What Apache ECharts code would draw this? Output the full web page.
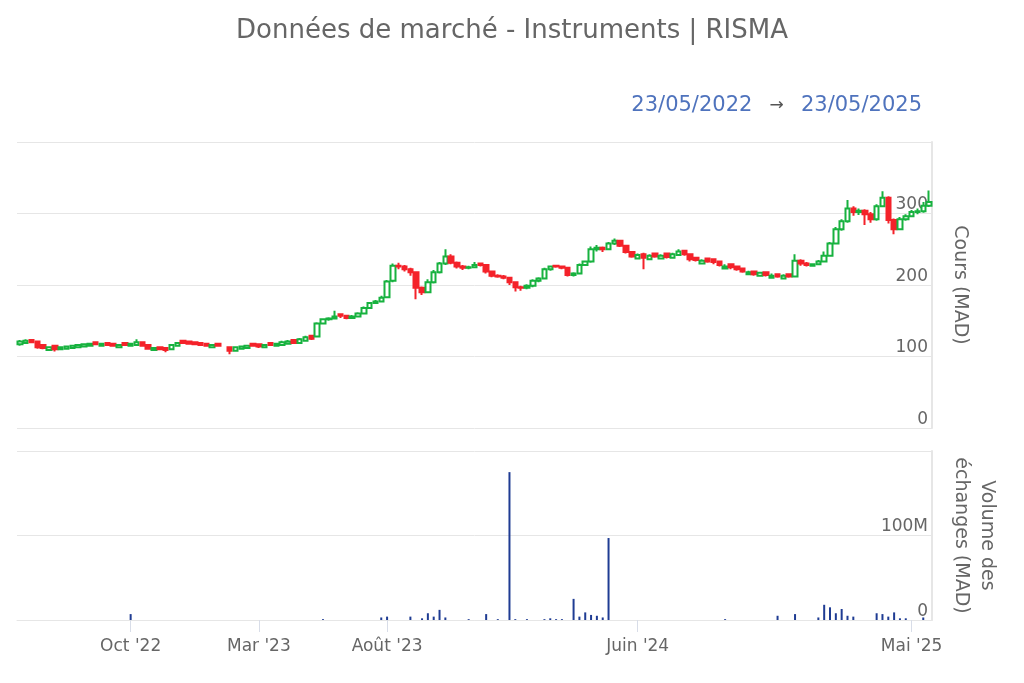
<!DOCTYPE html>
<html>
<head>
<meta charset="utf-8">
<script src="https://cdn.jsdelivr.net/npm/echarts@6/dist/echarts.min.js"></script>
<style>
html,body{margin:0;padding:0;background:#fff;}
#chart{width:1024px;height:683px;}
</style>
</head>
<body>
<div id="chart"></div>
<script>
// ---- Data (weekly) ----
const startWeek = '2022-05-16';
const weekCount = 157;

const opens = [117,119,123,121,116,109,115,110,111,112,
113,114,115,120,115,119,118,113,119,115,
116,120,116,109,113,112,110,115,122,121,
120,119,118,113,118,null,113,108,111,112,
118,117,113,119,115,116,118,123,119,122,
129,128,146,152,153,159,157,154,156,160,
168,175,177,183,206,227,226,222,218,196,
190,204,218,230,240,231,226,224,225,230,
228,219,213,212,210,204,197,196,199,206,
209,222,227,226,224,214,216,228,233,250,
252,250,258,262,255,246,237,243,236,244,
237,244,238,242,248,243,238,230,237,236,
233,223,229,226,223,215,219,213,218,210,
215,209,215,212,234,230,227,229,233,241,
258,278,289,307,302,304,299,292,310,322,
291,278,292,296,302,303,311];

const closes = [121,122,120,113,112,113,110,113,114,115,
116,117,118,117,118,116,115,116,116,118,
120,115,111,112,110,109,116,119,119,118,
117,116,115,116,115,null,108,113,114,115,
115,114,116,116,118,120,121,119,124,127,
125,146,152,153,156,157,154,156,160,168,
175,177,182,205,227,226,222,218,196,190,
204,218,230,240,231,226,224,225,228,228,
219,213,212,210,204,197,196,199,206,209,
222,226,226,224,214,216,228,233,250,252,
250,258,262,255,246,240,242,238,241,240,
241,239,243,247,243,236,235,234,233,232,
228,226,225,222,219,218,215,217,214,213,
212,213,212,234,230,228,229,233,241,258,
278,289,307,302,304,299,292,310,322,291,
278,292,296,302,303,311,316];

const lows = [115,118,119,111,110,108,107,109,110,111,
112,113,114,116,114,115,114,112,115,114,
115,114,110,108,109,106,109,114,118,117,
116,115,114,112,114,null,103,107,110,111,
114,112,112,115,114,115,117,118,118,121,
123,127,145,150,152,154,152,153,155,159,
167,174,176,182,204,222,219,213,180,186,
189,202,216,228,229,223,221,222,224,226,
216,211,210,208,200,191,192,194,197,204,
208,220,224,222,212,212,215,227,231,247,
246,249,256,253,244,238,236,222,235,238,
236,237,237,241,241,233,233,229,231,229,
226,222,222,220,217,214,213,212,212,209,
210,208,210,211,227,226,226,228,232,240,
257,276,287,297,298,284,287,290,309,286,
271,277,290,295,299,301,309];

const highs = [123,124,124,122,117,114,116,114,115,116,
117,118,119,121,119,120,119,117,120,119,
124,121,117,113,114,113,117,120,123,122,
121,120,119,117,119,null,114,114,115,116,
119,118,117,120,119,122,123,124,126,129,
130,148,153,155,164,160,158,158,162,170,
176,179,185,207,230,231,228,224,219,198,
208,221,232,250,243,233,228,227,232,231,
229,220,215,214,211,205,199,201,208,211,
224,227,228,227,225,218,230,234,254,256,
254,260,265,263,256,247,244,245,243,245,
243,245,245,250,249,244,239,236,238,237,
234,229,230,227,224,220,220,218,219,216,
216,215,216,243,236,232,230,235,247,260,
281,292,319,310,307,306,302,313,331,324,
293,295,299,305,307,316,332];

// trading volume, millions of MAD (null = none)
const volumes = [null,null,null,null,null,null,null,null,null,null,
null,null,null,null,null,null,null,null,null,7,
null,null,null,null,null,null,null,null,null,null,
null,null,null,null,null,null,null,null,null,null,
null,null,null,null,null,null,null,null,null,null,
null,null,1,null,null,null,null,null,null,null,
null,null,3,4,null,null,null,4,null,2,
8,4,12,3,null,null,null,1,null,null,
7,null,1,null,175,1,null,1,null,null,
1,2,1,1,null,25,4,9,6,5,
3,97,null,null,null,null,null,null,null,null,
null,null,null,null,null,null,null,null,null,null,
null,1,null,null,null,null,null,null,null,null,
5,null,null,7,null,null,null,3,18,15,
8,13,5,4,null,null,null,8,7,4,
9,2,2,null,null,3,null];

// x-axis ticks (week category -> label)
const tickWeeks  = ['2022-09-26','2023-02-27','2023-07-31','2024-05-27','2025-04-21'];
const tickLabels = ["Oct '22","Mar '23","Août '23","Juin '24","Mai '25"];

const priceTicks  = [0,100,200,300,400];
const volumeTicks = [0,100,200];

const titleText = 'Données de marché - Instruments | RISMA';
const rangeFrom = '23/05/2022';
const rangeTo   = '23/05/2025';

// ---- Build ----
const weeks = [];
const t0 = Date.parse(startWeek + 'T00:00:00Z');
for (let i = 0; i < weekCount; i++) {
  weeks.push(new Date(t0 + i * 7 * 86400000).toISOString().slice(0, 10));
}
const candleData = weeks.map((w, i) =>
  closes[i] == null ? '-' : [opens[i], closes[i], lows[i], highs[i]]);
const volumeData = volumes.map(v => v == null ? '-' : v);

const tickMap = {};
tickWeeks.forEach((w, i) => { tickMap[w] = tickLabels[i]; });
const isTick = (idx, val) => Object.prototype.hasOwnProperty.call(tickMap, val);

const FONT = 'DejaVu Sans';
const GREEN = '#17b23f';
const RED = '#f4222a';

const chart = echarts.init(document.getElementById('chart'), null, {renderer: 'canvas'});
chart.setOption({
  animation: false,
  backgroundColor: '#ffffff',
  textStyle: {fontFamily: FONT},
  title: [{
    text: titleText,
    left: 'center',
    top: 13,
    textStyle: {fontFamily: FONT, fontSize: 26, fontWeight: 'normal', color: '#666666'}
  }, {
    text: '{d|' + rangeFrom + '}   {a|→}   {d|' + rangeTo + '}',
    right: 97,
    top: 90,
    textStyle: {
      fontWeight: 'normal',
      rich: {
        d: {fontFamily: FONT, fontSize: 21, fontWeight: 'normal', color: '#4f73bd'},
        a: {fontFamily: FONT, fontSize: 17, fontWeight: 'normal', color: '#555555'}
      }
    }
  }],
  grid: [
    {left: 17, right: 92, top: 142, height: 286},
    {left: 17, right: 92, top: 451, height: 169}
  ],
  xAxis: [{
    type: 'category', gridIndex: 0, data: weeks, boundaryGap: true,
    axisLine: {show: false}, axisTick: {show: false}, axisLabel: {show: false},
    splitLine: {show: false}
  }, {
    type: 'category', gridIndex: 1, data: weeks, boundaryGap: true,
    axisLine: {show: true, lineStyle: {color: '#e6e6e6', width: 1}},
    axisTick: {show: true, alignWithLabel: true, interval: isTick, length: 12,
      lineStyle: {color: '#d8dde8', width: 1}},
    axisLabel: {show: true, interval: isTick, formatter: v => tickMap[v] || '',
      color: '#666666', fontSize: 17, fontFamily: FONT, margin: 18},
    splitLine: {show: false}
  }],
  yAxis: [{
    type: 'value', gridIndex: 0, position: 'right',
    min: priceTicks[0], max: priceTicks[priceTicks.length - 1], interval: 100,
    axisLine: {show: true, lineStyle: {color: '#e6e6e6', width: 2}},
    axisTick: {show: false},
    axisLabel: {inside: true, verticalAlign: 'bottom', margin: 4, color: '#666666',
      fontSize: 17, fontFamily: FONT,
      formatter: v => v === priceTicks[priceTicks.length - 1] ? '' : String(v)},
    splitLine: {show: true, lineStyle: {color: '#e6e6e6', width: 1}},
    name: 'Cours (MAD)', nameLocation: 'middle', nameRotate: -90, nameGap: 18,
    nameTextStyle: {color: '#666666', fontSize: 19, fontFamily: FONT}
  }, {
    type: 'value', gridIndex: 1, position: 'right',
    min: volumeTicks[0], max: volumeTicks[volumeTicks.length - 1], interval: 100,
    axisLine: {show: true, lineStyle: {color: '#e6e6e6', width: 2}},
    axisTick: {show: false},
    axisLabel: {inside: true, verticalAlign: 'bottom', margin: 4, color: '#666666',
      fontSize: 17, fontFamily: FONT,
      formatter: v => v === 0 ? '0' : (v === volumeTicks[volumeTicks.length - 1] ? '' : v + 'M')},
    splitLine: {show: true, lineStyle: {color: '#e6e6e6', width: 1}},
    name: 'Volume des\néchanges (MAD)', nameLocation: 'middle', nameRotate: -90, nameGap: 16,
    nameTextStyle: {color: '#666666', fontSize: 19, fontFamily: FONT, lineHeight: 26}
  }],
  series: [{
    type: 'candlestick', xAxisIndex: 0, yAxisIndex: 0,
    data: candleData, barWidth: 5,
    itemStyle: {color: '#ffffff', color0: RED, borderColor: GREEN, borderColor0: RED, borderWidth: 2}
  }, {
    type: 'bar', xAxisIndex: 1, yAxisIndex: 1,
    data: volumeData, barWidth: 2,
    itemStyle: {color: '#1f3c93'}
  }]
});
</script>
</body>
</html>
